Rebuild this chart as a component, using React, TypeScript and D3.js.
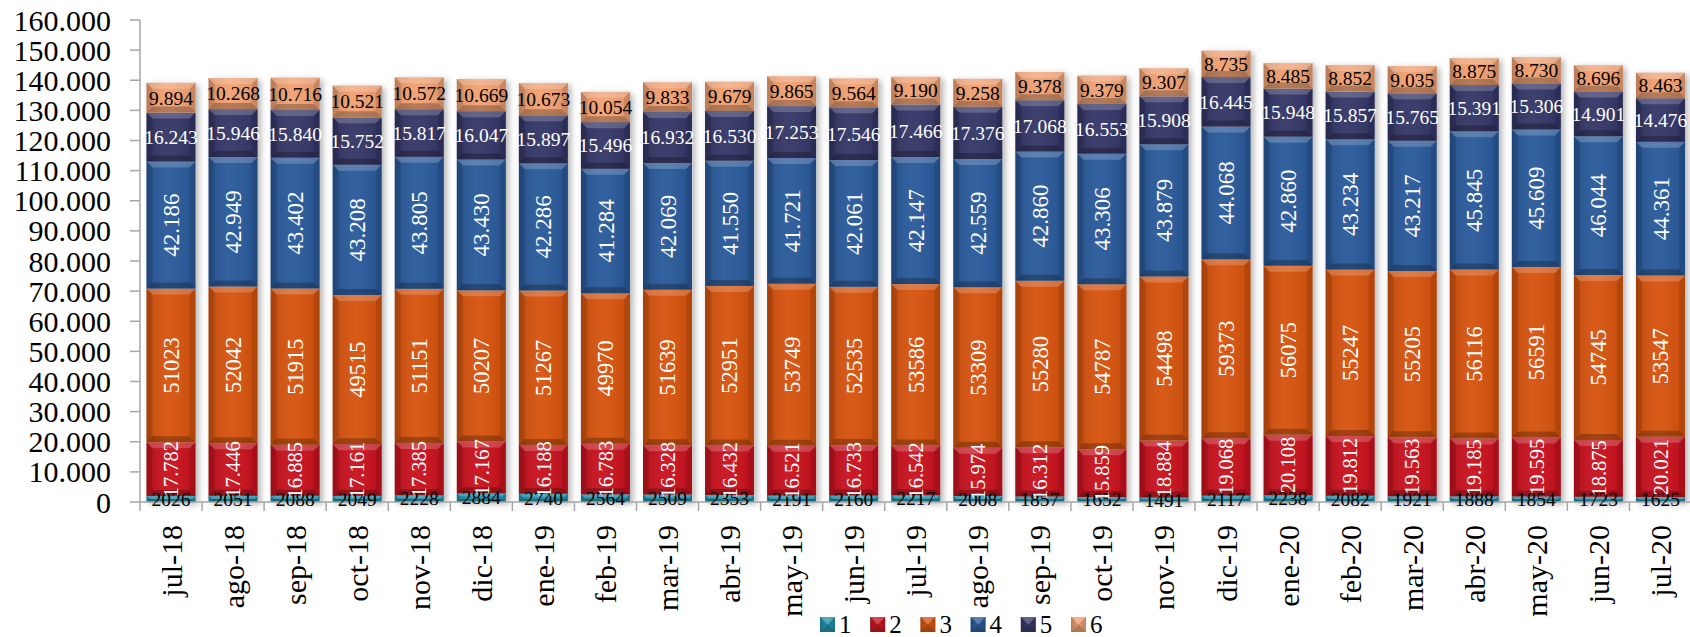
import React from "react";
import * as d3 from "d3";

const months = ["jul-18","ago-18","sep-18","oct-18","nov-18","dic-18","ene-19","feb-19","mar-19","abr-19","may-19","jun-19","jul-19","ago-19","sep-19","oct-19","nov-19","dic-19","ene-20","feb-20","mar-20","abr-20","may-20","jun-20","jul-20"];
const s1 = [2026,2051,2088,2049,2228,2884,2740,2564,2509,2353,2191,2160,2217,2008,1857,1652,1491,2117,2238,2082,1921,1888,1854,1723,1625];
const s2 = [17782,17446,16885,17161,17385,17167,16188,16783,16328,16432,16521,16733,16542,15974,16312,15859,18884,19068,20108,19812,19563,19185,19595,18875,20021];
const s3 = [51023,52042,51915,49515,51151,50207,51267,49970,51639,52951,53749,52535,53586,53309,55280,54787,54498,59373,56075,55247,55205,56116,56591,54745,53547];
const s4 = [42186,42949,43402,43208,43805,43430,42286,41284,42069,41550,41721,42061,42147,42559,42860,43306,43879,44068,42860,43234,43217,45845,45609,46044,44361];
const s5 = [16243,15946,15840,15752,15817,16047,15897,15496,16932,16530,17253,17546,17466,17376,17068,16553,15908,16445,15948,15857,15765,15391,15306,14901,14476];
const s6 = [9894,10268,10716,10521,10572,10669,10673,10054,9833,9679,9865,9564,9190,9258,9378,9379,9307,8735,8485,8852,9035,8875,8730,8696,8463];
const seriesNames = ["1","2","3","4","5","6"];
const yTicks = [0,10000,20000,30000,40000,50000,60000,70000,80000,90000,100000,110000,120000,130000,140000,150000,160000];

const seriesValues = [s1, s2, s3, s4, s5, s6];
const colors = ["#1E8FAA", "#C8101C", "#D6520C", "#28599A", "#333566", "#F2A070"];
const labelColors = ["#000", "#fff", "#fff", "#fff", "#fff", "#000"];
const rotated = [false, true, true, true, false, false];
const dotted = [false, true, false, true, true, true];
const labelSizes = [19.5, 20.5, 22.5, 23, 19.5, 19.5];

const FONT = "'Liberation Serif', 'Times New Roman', serif";
const W = 1690, H = 637;
const X0 = 140, X1 = 140 + 25 * 62.06;
const Y0 = 502, Y1 = 20;

const dotFmt = (v: number) => {
  const s = String(v);
  return s.length > 3 ? s.slice(0, s.length - 3) + "." + s.slice(s.length - 3) : s;
};
const tickFmt = (v: number) => (v === 0 ? "0" : dotFmt(v));

function Bevel({ x, y, w, h, color, b0 = 6 }: any) {
  const b = Math.max(0, Math.min(b0, h / 2, w / 2));
  const top = `${x},${y} ${x + w},${y} ${x + w - b},${y + b} ${x + b},${y + b}`;
  const left = `${x},${y} ${x + b},${y + b} ${x + b},${y + h - b} ${x},${y + h}`;
  const right = `${x + w},${y} ${x + w},${y + h} ${x + w - b},${y + h - b} ${x + w - b},${y + b}`;
  const bottom = `${x},${y + h} ${x + b},${y + h - b} ${x + w - b},${y + h - b} ${x + w},${y + h}`;
  return (
    <g>
      <rect x={x} y={y} width={w} height={h} fill={color} />
      <rect x={x} y={y} width={w} height={h} fill="url(#hgrad)" />
      <polygon points={top} fill="#fff" fillOpacity={0.2} />
      <polygon points={left} fill="#000" fillOpacity={0.12} />
      <polygon points={right} fill="#000" fillOpacity={0.1} />
      <polygon points={bottom} fill="#000" fillOpacity={0.25} />
    </g>
  );
}

export default function App() {
  const x = d3.scaleBand<string>().domain(months).range([X0, X1]).paddingInner(0.21).paddingOuter(0.105);
  const y = d3.scaleLinear().domain([0, 160000]).range([Y0, Y1]);
  const table = months.map((m, i) => {
    const row: any = { month: m };
    seriesNames.forEach((k, j) => (row[k] = seriesValues[j][i]));
    return row;
  });
  const stack = d3.stack<any>().keys(seriesNames)(table);
  const bw = x.bandwidth();

  return (
    <svg width={W} height={H} style={{ position: "absolute", left: 0, top: 0, background: "#fff" }} fontFamily={FONT}>
      <defs>
        <linearGradient id="hgrad" x1="0" x2="1" y1="0" y2="0">
          <stop offset="0" stopColor="#000" stopOpacity={0.12} />
          <stop offset="0.45" stopColor="#fff" stopOpacity={0.05} />
          <stop offset="1" stopColor="#000" stopOpacity={0.08} />
        </linearGradient>
        <filter id="shadow" x="-30%" y="-10%" width="160%" height="130%">
          <feDropShadow dx="3" dy="2" stdDeviation="3" floodColor="#000" floodOpacity="0.3" />
        </filter>
      </defs>
      <g filter="url(#shadow)">
        {months.map((m, i) => {
          const top = stack[stack.length - 1][i][1];
          return <rect key={m} x={x(m)!} y={y(top)} width={bw} height={y(0) - y(top)} fill="#ddd" />;
        })}
      </g>
      {stack.map((layer, j) => (
        <g key={j}>
          {layer.map((d, i) => {
            const xx = x(months[i])!;
            const yTop = y(d[1]);
            const h = y(d[0]) - y(d[1]);
            return <Bevel key={i} x={xx} y={yTop} w={bw} h={h} color={colors[j]} b0={j === 0 ? 3 : 6} />;
          })}
        </g>
      ))}
      <g stroke="#A6A6A6" strokeWidth={1.5} fill="none">
        <line x1={X0} x2={X0} y1={Y1} y2={Y0} />
        <line x1={X0} x2={X1} y1={Y0} y2={Y0} />
        {yTicks.map((t) => (
          <line key={t} x1={X0 - 10} x2={X0} y1={y(t)} y2={y(t)} />
        ))}
        {months.map((m, i) => {
          const xx = X0 + i * x.step();
          return <line key={m} x1={xx} x2={xx} y1={Y0} y2={Y0 + 9} />;
        })}
        <line x1={X1} x2={X1} y1={Y0} y2={Y0 + 9} />
      </g>
      {stack.map((layer, j) => (
        <g key={"l" + j} fill={labelColors[j]} fontSize={labelSizes[j]} textAnchor="middle">
          {layer.map((d, i) => {
            const cx = x(months[i])! + bw / 2;
            const cy = (y(d[0]) + y(d[1])) / 2;
            const v = seriesValues[j][i];
            const txt = dotted[j] ? dotFmt(v) : String(v);
            return rotated[j] ? (
              <text key={i} transform={`translate(${cx},${cy}) rotate(-90)`} dy="0.35em">{txt}</text>
            ) : (
              <text key={i} x={cx} y={cy} dy="0.35em">{txt}</text>
            );
          })}
        </g>
      ))}
      <g fontSize={30} textAnchor="end" fill="#000">
        {yTicks.map((t) => (
          <text key={t} x={111} y={y(t)} dy="0.35em">{tickFmt(t)}</text>
        ))}
      </g>
      <g fontSize={30} textAnchor="end" fill="#000">
        {months.map((m) => (
          <text key={m} transform={`translate(${x(m)! + bw / 2},525) rotate(-90)`} dy="0.35em">{m}</text>
        ))}
      </g>
      <g fontSize={25} fill="#000">
        {seriesNames.map((s, j) => {
          const lx = 820 + j * 50.2;
          return (
            <g key={s}>
              <Bevel x={lx} y={617} w={15} h={15} color={colors[j]} b0={7.5} />
              <text x={lx + 19} y={632.5}>{s}</text>
            </g>
          );
        })}
      </g>
    </svg>
  );
}
